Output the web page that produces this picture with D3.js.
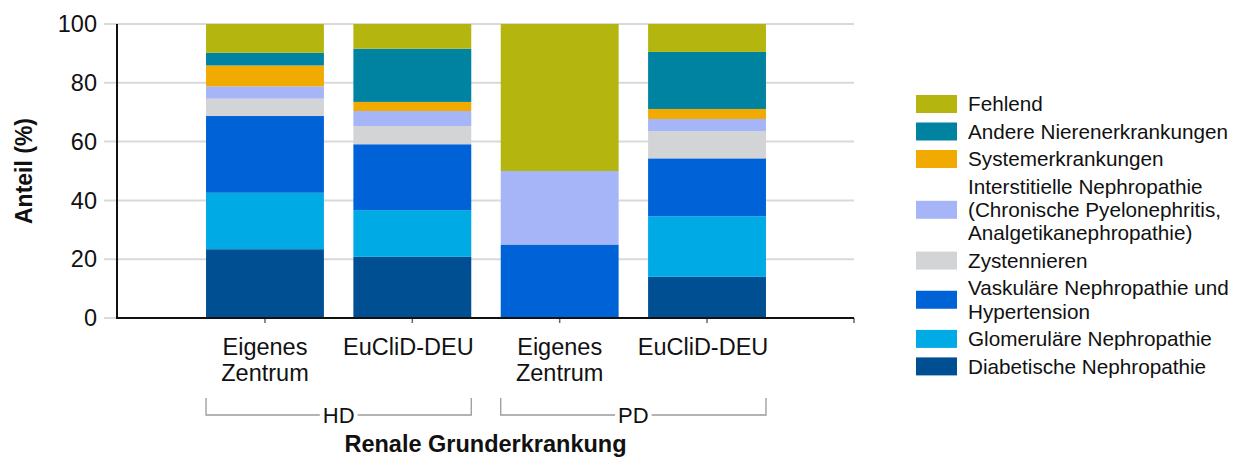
<!DOCTYPE html>
<html><head><meta charset="utf-8">
<script src="https://cdn.jsdelivr.net/npm/d3@7"></script>
<style>
html,body{margin:0;padding:0;background:#fff;}
svg{display:block;font-family:"Liberation Sans",Arial,sans-serif;}
</style></head>
<body>
<svg id="chart" width="1239" height="457"></svg>
<script>
// ---- data ----
const categories = ["Eigenes Zentrum|HD", "EuCliD-DEU|HD", "Eigenes Zentrum|PD", "EuCliD-DEU|PD"];
const categoryLabels = [["Eigenes","Zentrum"],["EuCliD-DEU"],["Eigenes","Zentrum"],["EuCliD-DEU"]];
const groups = ["HD", "PD"];
const groupMembers = [[0,1],[2,3]];
// stacking order bottom -> top
const seriesNames = [
  "Diabetische Nephropathie",
  "Glomeruläre Nephropathie",
  "Vaskuläre Nephropathie und Hypertension",
  "Zystennieren",
  "Interstitielle Nephropathie (Chronische Pyelonephritis, Analgetikanephropathie)",
  "Systemerkrankungen",
  "Andere Nierenerkrankungen",
  "Fehlend"
];
const diabetisch   = [23.4, 20.8, 0.0, 14.0];
const glomerulaer  = [19.2, 15.9, 0.0, 20.6];
const vaskulaer    = [26.1, 22.4, 25.0, 19.7];
const zysten       = [5.9, 6.2, 0.0, 9.2];
const interstitiell= [4.2, 5.1, 25.0, 4.2];
const system       = [7.1, 3.1, 0.0, 3.4];
const andere       = [4.3, 18.1, 0.0, 19.4];
const fehlend      = [9.8, 8.4, 50.0, 9.5];
const seriesValues = [diabetisch, glomerulaer, vaskulaer, zysten, interstitiell, system, andere, fehlend];
const colors = ["#004F92","#00AAE4","#0062D7","#D3D4D6","#A6B4F8","#F0AA00","#0083A0","#B5B50F"];
const legendLines = [
  ["Fehlend"],
  ["Andere Nierenerkrankungen"],
  ["Systemerkrankungen"],
  ["Interstitielle Nephropathie","(Chronische Pyelonephritis,","Analgetikanephropathie)"],
  ["Zystennieren"],
  ["Vaskuläre Nephropathie und","Hypertension"],
  ["Glomeruläre Nephropathie"],
  ["Diabetische Nephropathie"]
];
const legendColorIdx = [7,6,5,4,3,2,1,0];
const yTicks = [0, 20, 40, 60, 80, 100];
const yTitle = "Anteil (%)";
const xTitle = "Renale Grunderkrankung";

// ---- layout ----
const svg = d3.select("#chart");
const plotL = 117, plotR = 854, plotT = 24, plotB = 318;
const y = d3.scaleLinear().domain([0,100]).range([plotB, plotT]);
const x = d3.scaleBand().domain(categories).range([191.3, 780.7]).paddingInner(0.2).paddingOuter(0.1);
const FS = 23.5;

// gridlines + y ticks
svg.append("g").selectAll("line").data(yTicks).join("line")
  .attr("x1", plotL - 13).attr("x2", plotR)
  .attr("y1", d => y(d)).attr("y2", d => y(d))
  .attr("stroke", "#d9d9d9").attr("stroke-width", 2);

svg.append("g").selectAll("text").data(yTicks).join("text")
  .attr("x", plotL - 20).attr("y", d => y(d)).attr("dy", "0.35em")
  .attr("text-anchor", "end").attr("font-size", FS).attr("fill", "#111")
  .text(d => d);

// stacked bars
const rows = categories.map((c, i) => {
  const o = {cat: c};
  seriesNames.forEach((s, j) => o[s] = seriesValues[j][i]);
  return o;
});
const stack = d3.stack().keys(seriesNames)(rows);
svg.append("g").selectAll("g").data(stack).join("g")
  .attr("fill", (d, i) => colors[i])
  .selectAll("rect").data(d => d).join("rect")
  .attr("x", d => x(d.data.cat))
  .attr("width", x.bandwidth())
  .attr("y", d => y(d[1]))
  .attr("height", d => Math.max(0, y(d[0]) - y(d[1])));

// x ticks
const xTickPos = categories.map(c => x(c) + x.bandwidth()/2).concat([plotR]);
svg.append("g").selectAll("line").data(xTickPos).join("line")
  .attr("x1", d => d).attr("x2", d => d)
  .attr("y1", plotB).attr("y2", plotB + 5)
  .attr("stroke", "#666").attr("stroke-width", 1.5);

// axes lines
svg.append("line").attr("x1", plotL).attr("x2", plotL).attr("y1", plotT).attr("y2", plotB + 1)
  .attr("stroke", "#111").attr("stroke-width", 2);
svg.append("line").attr("x1", plotL - 1).attr("x2", plotR).attr("y1", plotB).attr("y2", plotB)
  .attr("stroke", "#111").attr("stroke-width", 2);

// category labels
categories.forEach((c, i) => {
  const cx = x(c) + x.bandwidth()/2 - (categoryLabels[i].length === 1 ? 4 : 0);
  const t = svg.append("text").attr("text-anchor", "middle").attr("font-size", FS).attr("fill", "#111")
    .attr("x", cx).attr("y", 355);
  categoryLabels[i].forEach((ln, k) => t.append("tspan").attr("x", cx).attr("dy", k === 0 ? 0 : 26).text(ln));
});

// group brackets
groups.forEach((g, gi) => {
  const a = x(categories[groupMembers[gi][0]]);
  const b = x(categories[groupMembers[gi][1]]) + x.bandwidth();
  const mid = (a + b) / 2;
  const ly = 415, top = 398;
  const txt = svg.append("text").attr("x", mid).attr("y", ly + 7.5).attr("text-anchor", "middle")
    .attr("font-size", 22).attr("fill", "#111").text(g);
  const w = txt.node().getComputedTextLength();
  const gap = 3;
  svg.append("path")
    .attr("d", `M${a},${top}V${ly}H${mid - w/2 - gap}M${mid + w/2 + gap},${ly}H${b}V${top}`)
    .attr("fill", "none").attr("stroke", "#9a9a9a").attr("stroke-width", 1.3);
});

// axis titles
svg.append("text").attr("x", (plotL + plotR)/2).attr("y", 452).attr("text-anchor", "middle")
  .attr("font-size", 23.5).attr("font-weight", "bold").attr("fill", "#111").text(xTitle);
svg.append("text").attr("transform", `translate(32,${(plotT+plotB)/2}) rotate(-90)`)
  .attr("text-anchor", "middle").attr("font-size", 23).attr("font-weight", "bold").attr("fill", "#111").text(yTitle);

// legend
const lg = svg.append("g");
let cy = 104;
const lineGap = 23.3, entryGap = 27.5;
legendLines.forEach((lines, i) => {
  const first = cy;
  const last = cy + (lines.length - 1) * lineGap;
  const center = (first + last) / 2;
  lg.append("rect").attr("x", 916).attr("y", center - 9).attr("width", 41).attr("height", 18)
    .attr("fill", colors[legendColorIdx[i]]);
  lines.forEach((ln, k) => {
    lg.append("text").attr("x", 968).attr("y", first + k * lineGap).attr("dy", "0.35em")
      .attr("font-size", 20.7).attr("fill", "#111").text(ln);
  });
  cy = last + entryGap;
});
</script>
</body></html>
